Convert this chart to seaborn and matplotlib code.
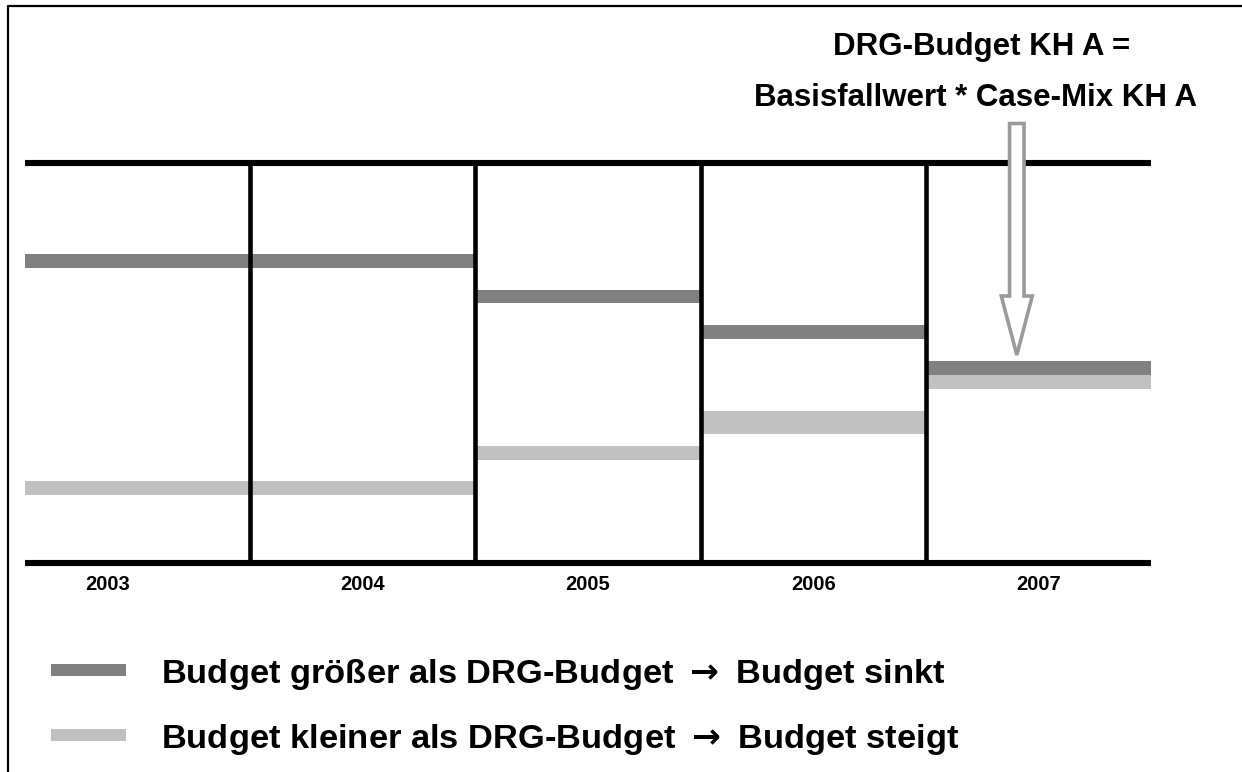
import matplotlib
matplotlib.use("Agg")
import matplotlib.pyplot as plt
import matplotlib.patches as mpatches
from matplotlib.lines import Line2D
from matplotlib.transforms import ScaledTranslation
import seaborn as sns
import pandas as pd

# ---------------- data ----------------
years = ["2003", "2004", "2005", "2006", "2007"]
over_low = [73.75, 73.75, 65.1, 56.0, 47.1]     # Budget größer als DRG-Budget
over_high = [77.25, 77.25, 68.25, 59.5, 50.5]
under_low = [17.0, 17.0, 25.75, 32.3, 43.6]     # Budget kleiner als DRG-Budget
under_high = [20.5, 20.5, 29.25, 38.0, 47.1]

legend_labels = [r"Budget größer als DRG-Budget $\mathbf{\rightarrow}$ Budget sinkt",
                 r"Budget kleiner als DRG-Budget $\mathbf{\rightarrow}$ Budget steigt"]
header_lines = ["DRG-Budget KH A =", "Basisfallwert * Case-Mix KH A"]
colors = ["#808080", "#c0c0c0"]

# ---------------- style ----------------
sns.set_theme(style="white")
plt.rcParams["font.family"] = ["Liberation Sans", "DejaVu Sans"]
plt.rcParams["font.weight"] = "bold"
plt.rcParams["mathtext.fontset"] = "dejavusans"

W, H, DPI = 1242, 772, 100
fig = plt.figure(figsize=(W / DPI, H / DPI), dpi=DPI)
fig.patch.set_facecolor("white")

def fx(px):
    return px / W

def fy(py):
    return 1 - py / H

ax = fig.add_axes([fx(25), fy(563), fx(1151) - fx(25), fy(163) - fy(563)])

df_over = pd.DataFrame({"year": years,
                        "h": [h - l for h, l in zip(over_high, over_low)]})
df_under = pd.DataFrame({"year": years,
                         "h": [h - l for h, l in zip(under_high, under_low)]})

sns.barplot(data=df_under, x="year", y="h", bottom=under_low, width=1.0,
            color=colors[1], saturation=1, linewidth=0, errorbar=None,
            ax=ax, zorder=1)
sns.barplot(data=df_over, x="year", y="h", bottom=over_low, width=1.0,
            color=colors[0], saturation=1, linewidth=0, errorbar=None,
            ax=ax, zorder=1)

ax.set_xlim(-0.5, len(years) - 0.5)
ax.set_ylim(0, 100)
ax.vlines([i + 0.5 for i in range(len(years) - 1)], 0, 100,
          colors="black", linewidth=3.3, zorder=3)

for s in ["left", "right"]:
    ax.spines[s].set_visible(False)
for s in ["top", "bottom"]:
    ax.spines[s].set_visible(True)
    ax.spines[s].set_color("black")
    ax.spines[s].set_linewidth(4.4)
    ax.spines[s].set_capstyle("butt")
    ax.spines[s].set_zorder(4)

ax.set_xlabel("")
ax.set_ylabel("")
ax.set_yticks([])
ax.tick_params(axis="x", length=0, pad=8.5, labelsize=14.5, labelcolor="black")
for lab in ax.get_xticklabels():
    lab.set_fontweight("bold")
# first year label sits left of its column centre
first = ax.get_xticklabels()[0]
first.set_transform(first.get_transform() +
                    ScaledTranslation(-30 / DPI, 0, fig.dpi_scale_trans))
ax.set_facecolor("white")

# ---------------- header text ----------------
fig.text(fx(982), fy(55), header_lines[0], ha="center", va="baseline",
         fontsize=22.5, fontweight="bold", color="black")
fig.text(fx(976), fy(106), header_lines[1], ha="center", va="baseline",
         fontsize=22.5, fontweight="bold", color="black")

# ---------------- hollow arrow ----------------
arrow = mpatches.FancyArrow(1016.8 / DPI, (H - 123.5) / DPI, 0, -(355 - 123.5) / DPI,
                            width=14.5 / DPI, head_width=31 / DPI,
                            head_length=59 / DPI, length_includes_head=True,
                            facecolor="white", edgecolor="#9a9a9a",
                            linewidth=2.6, transform=fig.dpi_scale_trans,
                            zorder=5, joinstyle="miter")
fig.add_artist(arrow)

# ---------------- legend ----------------
legend_rows = [670, 735]
for lbl, col, yc in zip(legend_labels, colors, legend_rows):
    fig.add_artist(mpatches.Rectangle((fx(51), fy(yc + 6)), fx(126) - fx(51),
                                      12 / H, transform=fig.transFigure,
                                      facecolor=col, edgecolor="none"))
    fig.text(fx(161), fy(yc + 13), lbl, ha="left", va="baseline",
             fontsize=24.8, fontweight="bold", color="black")

# ---------------- outer frame (left + top) ----------------
fig.add_artist(Line2D([fx(7.5), fx(7.5), 1.0], [0.0, fy(6), fy(6)],
                      transform=fig.transFigure, color="black", linewidth=1.6))

fig.savefig("out.png", dpi=DPI, facecolor="white")
